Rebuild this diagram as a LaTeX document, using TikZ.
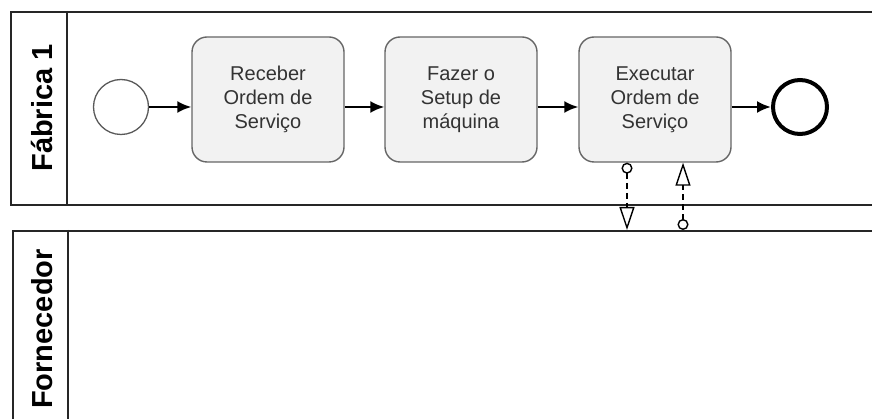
\documentclass[tikz,border=0pt]{standalone}
\usepackage{fontspec}
\setmainfont{Liberation Sans}
\usetikzlibrary{arrows.meta}
\begin{document}
\begin{tikzpicture}[x=1pt,y=-1pt,
 pool/.style={draw=black!85, line width=1.8pt, minimum width=880pt, anchor=north west, inner sep=0pt},
 poolline/.style={draw=black!85, line width=1.8pt},
 task/.style={draw=black!60, fill=black!5, rounded corners=15pt, line width=1.4pt, minimum width=152pt, minimum height=125pt, align=center, font=\fontsize{20}{24}\selectfont, text=black!80},
 seq/.style={line width=2.2pt, -{Latex[length=14pt,width=12pt]}},
 msg/.style={line width=1.4pt, dash pattern=on 6pt off 4pt, {Circle[open,length=11pt,width=11pt,fill=white]}-{Triangle[open,length=23pt,width=15pt,fill=white]}},
 lbl/.style={rotate=90, anchor=base, font=\fontsize{29}{32}\selectfont\bfseries}]
\useasboundingbox (0,0) rectangle (872,419);
\clip (0,0) rectangle (872,419);
\node[pool, minimum height=193pt] (p1) at (10,11) {};
\draw[poolline] ([xshift=57pt]p1.north west) -- ([xshift=57pt]p1.south west);
\node[lbl] (l1) at (52,108) {Fábrica 1};
\node[pool, minimum height=220pt] (p2) at (12,230) {};
\draw[poolline] ([xshift=56pt]p2.north west) -- ([xshift=56pt]p2.south west);
\node[lbl] (l2) at (52,329) {Fornecedor};
\node[circle, draw=black!65, line width=1.3pt, minimum size=55pt, inner sep=0pt] (s) at (121,107) {};
\node[task] (t1) at (268,99.5) {Receber\\Ordem de\\Serviço};
\node[task] (t2) at (461,99.5) {Fazer o\\Setup de\\máquina};
\node[task] (t3) at (655,99.5) {Executar\\Ordem de\\Serviço};
\node[circle, draw=black, line width=4pt, minimum size=54pt, inner sep=0pt] (e) at (800,107) {};
\draw[seq] (s.east) -- (s.east -| t1.west);
\draw[seq] (t1.east |- s) -- (t2.west |- s);
\draw[seq] (t2.east |- s) -- (t3.west |- s);
\draw[seq] (t3.east |- e) -- (e.west);
\coordinate (m1) at ([xshift=-28pt]t3.south);
\coordinate (m2) at ([xshift=28pt]t3.south);
\draw[msg] (m1) -- (m1 |- p2.north);
\draw[msg] (m2 |- p2.north) -- (m2);
\end{tikzpicture}
\end{document}
